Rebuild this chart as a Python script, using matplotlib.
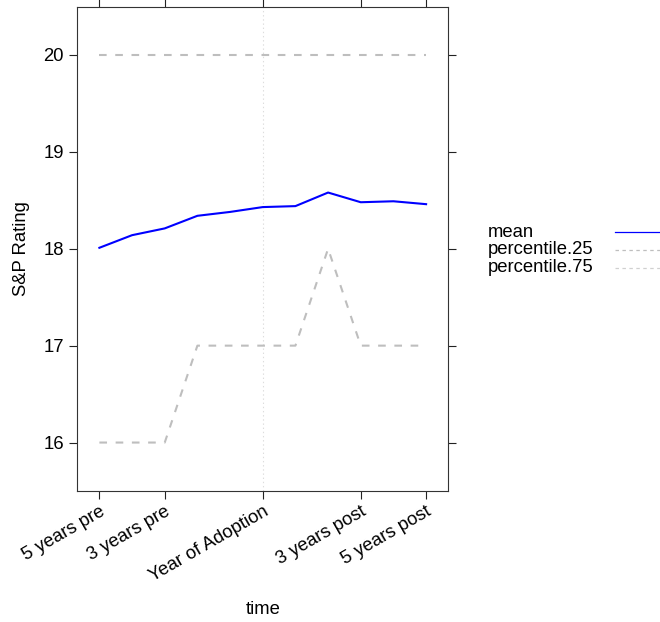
import matplotlib
matplotlib.use("Agg")
import matplotlib.pyplot as plt
from matplotlib.lines import Line2D

plt.rcParams['font.family'] = ['Liberation Sans', 'DejaVu Sans']
plt.rcParams['lines.scale_dashes'] = False

# time relative to adoption year
time = [-5, -4, -3, -2, -1, 0, 1, 2, 3, 4, 5]
mean = [18.01, 18.14, 18.21, 18.34, 18.38, 18.43, 18.44, 18.58, 18.48, 18.49, 18.46]
percentile_25 = [16, 16, 16, 17, 17, 17, 17, 18, 17, 17, 17]
percentile_75 = [20, 20, 20, 20, 20, 20, 20, 20, 20, 20, 20]

tick_pos = [-5, -3, 0, 3, 5]
tick_labels = ["5 years pre", "3 years pre", "Year of Adoption", "3 years post", "5 years post"]
y_ticks = [16, 17, 18, 19, 20]

series_names = ["mean", "percentile.25", "percentile.75"]

fig = plt.figure(figsize=(6.6, 6.22), dpi=100)
ax = fig.add_axes([77 / 660, 1 - 491 / 622, (448 - 77) / 660, (491 - 6.5) / 622])

ax.axvline(0, color='#dddddd', lw=0.8, ls=(0, (1, 2)), zorder=1)
ax.plot(time, percentile_75, color='#bebebe', lw=1.5, dashes=(5.5, 6.2), zorder=2)
ax.plot(time, percentile_25, color='#bebebe', lw=1.5, dashes=(5.5, 6.2), zorder=2)
ax.plot(time, mean, color='#0000ff', lw=1.5, zorder=3)

ax.set_xlim(-5.685, 5.67)
ax.set_ylim(15.5, 20.5)
ax.set_yticks(y_ticks)
ax.set_yticklabels([str(v) for v in y_ticks])
ax.set_xticks(tick_pos)
ax.set_xticklabels(tick_labels, rotation=30, ha='right', va='top', rotation_mode='anchor')

ax.tick_params(axis='both', which='both', direction='out', length=5.5, width=0.8,
               color='#222222', labelsize=13.3, labelcolor='black',
               top=True, right=True, labeltop=False, labelright=False)
ax.tick_params(axis='x', pad=3)
ax.tick_params(axis='y', pad=4)
for s in ax.spines.values():
    s.set_color('#333333')
    s.set_linewidth(0.8)

fig.text(263 / 660, 1 - 609 / 622, "time", ha='center', va='center', fontsize=13.3)
fig.text(22 / 660, 1 - 249 / 622, "S&P Rating", ha='center', va='center',
         rotation=90, fontsize=13.3)

# legend at the right side
leg_y = [232, 250, 267.5]
leg_styles = [dict(color='#0000ff', lw=0.9),
              dict(color='#bebebe', lw=0.9, dashes=(2.5, 2.5)),
              dict(color='#d0d0d0', lw=0.9, dashes=(2.5, 2.5))]
for name, yy, st in zip(series_names, leg_y, leg_styles):
    fig.text(488 / 660, 1 - yy / 622, name, ha='left', va='center', fontsize=13.3)
    fig.add_artist(Line2D([615 / 660, 1.0], [1 - yy / 622, 1 - yy / 622],
                          transform=fig.transFigure, **st))

fig.savefig("out.png", dpi=100)
